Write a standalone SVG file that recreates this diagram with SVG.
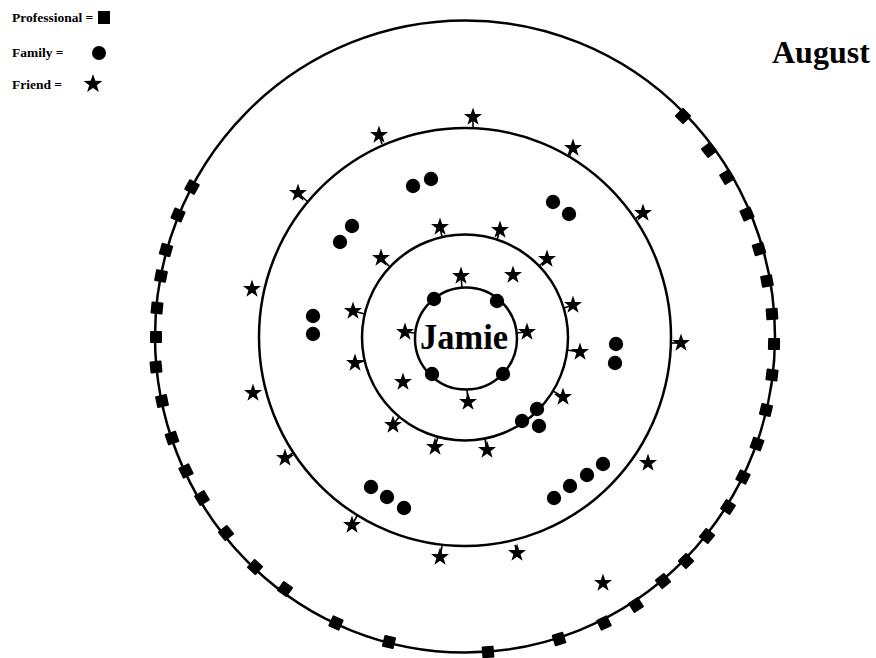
<svg xmlns="http://www.w3.org/2000/svg" xmlns:xlink="http://www.w3.org/1999/xlink" width="876" height="658" viewBox="0 0 876 658">
<style>
.ring{fill:none;stroke:#000;stroke-width:2.5}
.lbl{font-family:"Liberation Serif","Times New Roman",serif;font-weight:bold;fill:#000}
.leg{font-size:13.5px}
.fam{fill:#000}
.stem{stroke:#000;stroke-width:1.6;fill:none}
</style>
<defs>
<polygon id="star" points="0,-9.5 2.2,-3 9,-2.9 3.6,1.2 5.6,7.7 0,3.8 -5.6,7.7 -3.6,1.2 -9,-2.9 -2.2,-3" fill="#000"/>
<rect id="sq" x="-6" y="-6" width="12" height="12" rx="1" fill="#000"/>
</defs>
<rect width="876" height="658" fill="#fff"/>

<g id="legend">
<text class="lbl leg" x="12" y="22">Professional =</text>
<rect x="98" y="11" width="12" height="13" fill="#000"/>
<text class="lbl leg" x="12" y="57">Family =</text>
<circle cx="99" cy="53" r="7" fill="#000"/>
<text class="lbl leg" x="12" y="89">Friend =</text>
<use href="#star" transform="translate(93,84) scale(1.05)"/>
</g>

<g id="title"><text class="lbl" x="772" y="63" font-size="32">August</text></g>

<g id="ring-outer"><ellipse class="ring" cx="465" cy="336.5" rx="310" ry="316"/></g>
<g id="ring-2"><ellipse class="ring" cx="465" cy="337" rx="206" ry="209"/></g>
<g id="ring-3"><circle class="ring" cx="465" cy="337.5" r="103"/></g>
<g id="ring-inner"><circle class="ring" cx="466" cy="338.5" r="51"/></g>

<g id="jamie"><text class="lbl" x="464" y="349" font-size="36" text-anchor="middle" textLength="88" lengthAdjust="spacingAndGlyphs">Jamie</text></g>

<g id="connectors">
<line class="stem" x1="379" y1="135" x2="382" y2="144"/>
<line class="stem" x1="473" y1="117" x2="473" y2="128"/>
<line class="stem" x1="573" y1="148" x2="569" y2="157"/>
<line class="stem" x1="298" y1="193" x2="308" y2="202"/>
<line class="stem" x1="643" y1="213" x2="635" y2="219"/>
<line class="stem" x1="681" y1="343" x2="671" y2="343"/>
<line class="stem" x1="285" y1="458" x2="293" y2="453"/>
<line class="stem" x1="352" y1="525" x2="357" y2="516"/>
<line class="stem" x1="440" y1="557" x2="442" y2="546"/>
<line class="stem" x1="517" y1="553" x2="515" y2="545"/>
<line class="stem" x1="440" y1="227" x2="442" y2="237"/>
<line class="stem" x1="500" y1="230" x2="497" y2="240"/>
<line class="stem" x1="381" y1="258" x2="390" y2="267"/>
<line class="stem" x1="547" y1="259" x2="539" y2="266"/>
<line class="stem" x1="353" y1="311" x2="365" y2="314"/>
<line class="stem" x1="573" y1="305" x2="564" y2="308"/>
<line class="stem" x1="355" y1="363" x2="365" y2="361"/>
<line class="stem" x1="580" y1="352" x2="567" y2="350"/>
<line class="stem" x1="393" y1="425" x2="399" y2="417"/>
<line class="stem" x1="563" y1="397" x2="553" y2="391"/>
<line class="stem" x1="435" y1="447" x2="438" y2="437"/>
<line class="stem" x1="487" y1="450" x2="485" y2="439"/>
<line class="stem" x1="461" y1="276" x2="462" y2="288"/>
<line class="stem" x1="405" y1="332" x2="415" y2="333"/>
<line class="stem" x1="527" y1="332" x2="516" y2="333"/>
<line class="stem" x1="468" y1="402" x2="467" y2="390"/>
</g>

<g id="professionals">
<use href="#sq" transform="translate(683,116) rotate(-45.4)"/>
<use href="#sq" transform="translate(709,150) rotate(-37.5)"/>
<use href="#sq" transform="translate(727,177) rotate(-31.4)"/>
<use href="#sq" transform="translate(747,214) rotate(-23.6)"/>
<use href="#sq" transform="translate(759,249) rotate(-16.7)"/>
<use href="#sq" transform="translate(767,281) rotate(-10.5)"/>
<use href="#sq" transform="translate(772,314) rotate(-4.3)"/>
<use href="#sq" transform="translate(774,344) rotate(1.3)"/>
<use href="#sq" transform="translate(772,375) rotate(7.1)"/>
<use href="#sq" transform="translate(766,410) rotate(13.6)"/>
<use href="#sq" transform="translate(757,444) rotate(20.1)"/>
<use href="#sq" transform="translate(743,477) rotate(26.7)"/>
<use href="#sq" transform="translate(728,507) rotate(32.9)"/>
<use href="#sq" transform="translate(707,536) rotate(39.4)"/>
<use href="#sq" transform="translate(686,561) rotate(45.4)"/>
<use href="#sq" transform="translate(663,581) rotate(51)"/>
<use href="#sq" transform="translate(636,605) rotate(57.5)"/>
<use href="#sq" transform="translate(604,623) rotate(64)"/>
<use href="#sq" transform="translate(559,639) rotate(72.5)"/>
<use href="#sq" transform="translate(488,652) rotate(85.7)"/>
<use href="#sq" transform="translate(389,642) rotate(103.8)"/>
<use href="#sq" transform="translate(336,623) rotate(114.3)"/>
<use href="#sq" transform="translate(285,589) rotate(125.5)"/>
<use href="#sq" transform="translate(255,567) rotate(132.4)"/>
<use href="#sq" transform="translate(226,533) rotate(140.6)"/>
<use href="#sq" transform="translate(202,498) rotate(148.5)"/>
<use href="#sq" transform="translate(186,471) rotate(154.3)"/>
<use href="#sq" transform="translate(172,438) rotate(161)"/>
<use href="#sq" transform="translate(162,401) rotate(168)"/>
<use href="#sq" transform="translate(156,367) rotate(174.5)"/>
<use href="#sq" transform="translate(156,337) rotate(180)"/>
<use href="#sq" transform="translate(157,308) rotate(185.4)"/>
<use href="#sq" transform="translate(161,276) rotate(191.3)"/>
<use href="#sq" transform="translate(166,250) rotate(196.2)"/>
<use href="#sq" transform="translate(178,215) rotate(203)"/>
<use href="#sq" transform="translate(192,187) rotate(208.8)"/>
</g>

<g id="family">
<circle class="fam" cx="413" cy="186" r="7.2"/>
<circle class="fam" cx="431" cy="179" r="7.2"/>
<circle class="fam" cx="553" cy="202" r="7.2"/>
<circle class="fam" cx="569" cy="214" r="7.2"/>
<circle class="fam" cx="352" cy="226" r="7.2"/>
<circle class="fam" cx="340" cy="242" r="7.2"/>
<circle class="fam" cx="313" cy="316" r="7.2"/>
<circle class="fam" cx="313" cy="334" r="7.2"/>
<circle class="fam" cx="616" cy="344" r="7.2"/>
<circle class="fam" cx="615" cy="363" r="7.2"/>
<circle class="fam" cx="434" cy="299" r="7.2"/>
<circle class="fam" cx="497" cy="301" r="7.2"/>
<circle class="fam" cx="432" cy="374" r="7.2"/>
<circle class="fam" cx="503" cy="374" r="7.2"/>
<circle class="fam" cx="522" cy="421" r="7.2"/>
<circle class="fam" cx="537" cy="409" r="7.2"/>
<circle class="fam" cx="539" cy="426" r="7.2"/>
<circle class="fam" cx="371" cy="487" r="7.2"/>
<circle class="fam" cx="387" cy="497" r="7.2"/>
<circle class="fam" cx="404" cy="508" r="7.2"/>
<circle class="fam" cx="554" cy="498" r="7.2"/>
<circle class="fam" cx="570" cy="486" r="7.2"/>
<circle class="fam" cx="587" cy="475" r="7.2"/>
<circle class="fam" cx="603" cy="464" r="7.2"/>
</g>

<g id="friends">
<use href="#star" x="379" y="135"/>
<use href="#star" x="473" y="117"/>
<use href="#star" x="573" y="148"/>
<use href="#star" x="298" y="193"/>
<use href="#star" x="643" y="213"/>
<use href="#star" x="252" y="289"/>
<use href="#star" x="681" y="343"/>
<use href="#star" x="253" y="393"/>
<use href="#star" x="285" y="458"/>
<use href="#star" x="648" y="463"/>
<use href="#star" x="352" y="525"/>
<use href="#star" x="440" y="557"/>
<use href="#star" x="517" y="553"/>
<use href="#star" x="603" y="583"/>
<use href="#star" x="440" y="227"/>
<use href="#star" x="500" y="230"/>
<use href="#star" x="381" y="258"/>
<use href="#star" x="547" y="259"/>
<use href="#star" x="353" y="311"/>
<use href="#star" x="573" y="305"/>
<use href="#star" x="355" y="363"/>
<use href="#star" x="580" y="352"/>
<use href="#star" x="393" y="425"/>
<use href="#star" x="563" y="397"/>
<use href="#star" x="435" y="447"/>
<use href="#star" x="487" y="450"/>
<use href="#star" x="461" y="276"/>
<use href="#star" x="513" y="275"/>
<use href="#star" x="405" y="332"/>
<use href="#star" x="527" y="332"/>
<use href="#star" x="403" y="382"/>
<use href="#star" x="468" y="402"/>
</g>
</svg>
